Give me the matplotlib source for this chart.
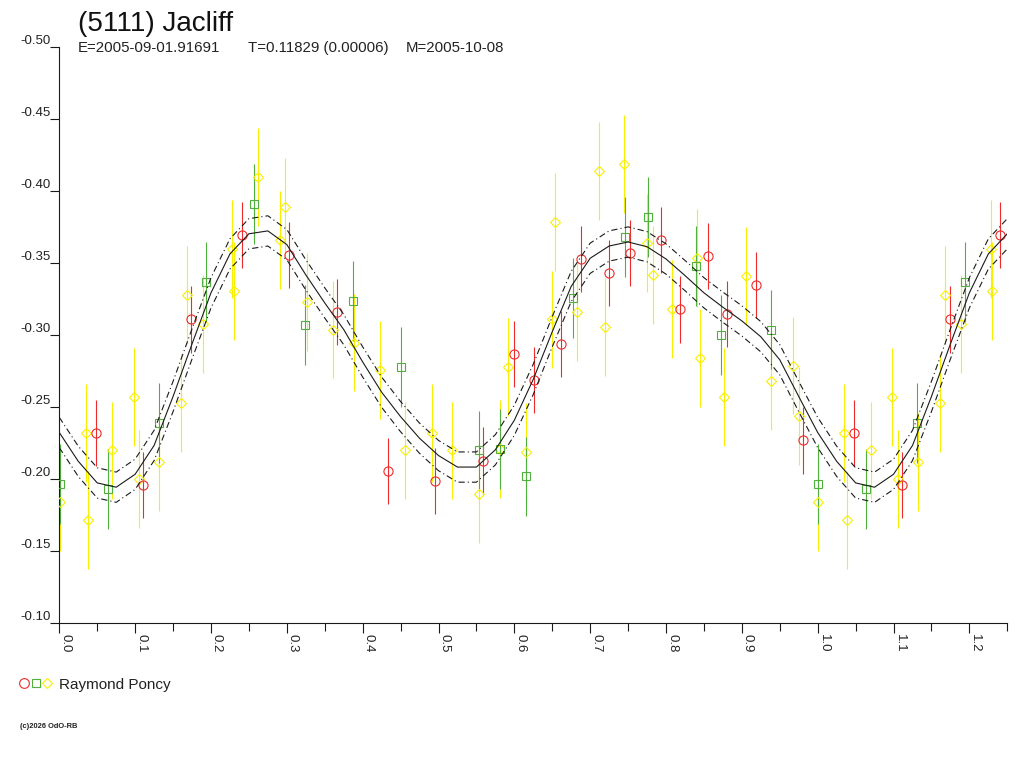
import numpy as np
import matplotlib.pyplot as plt
from matplotlib.lines import Line2D

plt.rcParams['font.family'] = ['Liberation Sans', 'DejaVu Sans']
plt.rcParams['lines.scale_dashes'] = False

curve_phase = np.arange(0, 41) * 0.025
curve_mag = [-0.2325, -0.2125, -0.1975, -0.1945, -0.2035, -0.2235, -0.2575,
             -0.2940, -0.3295, -0.3565, -0.3705, -0.3725, -0.3630, -0.3420,
             -0.3225, -0.3040, -0.2815, -0.2605, -0.2435, -0.2285, -0.2165,
             -0.2085, -0.2085, -0.2205, -0.2410, -0.2695, -0.3025, -0.3340,
             -0.3535, -0.3620, -0.3648, -0.3615, -0.3530, -0.3415, -0.3295,
             -0.3195, -0.3100, -0.2990, -0.2830, -0.2575, -0.2325]
curve_sigma = 0.0105

# Raymond Poncy, session 1 (red circles)
red_phase = [0.048, 0.111, 0.174, 0.2405, 0.303, 0.366, 0.433, 0.496, 0.559,
             0.599, 0.6255, 0.662, 0.688, 0.725, 0.752, 0.793, 0.818, 0.855,
             0.881, 0.918, 0.981]
red_mag = [-0.232, -0.196, -0.311, -0.3695, -0.3556, -0.316, -0.206, -0.199,
           -0.213, -0.287, -0.269, -0.294, -0.353, -0.343, -0.357, -0.366,
           -0.318, -0.355, -0.315, -0.335, -0.227]
red_err = 0.023

# session 2 (green squares)
green_phase = [0.001, 0.064, 0.131, 0.194, 0.257, 0.324, 0.387, 0.450, 0.553,
               0.581, 0.616, 0.678, 0.746, 0.776, 0.840, 0.872, 0.9385]
green_mag = [-0.197, -0.193, -0.239, -0.337, -0.391, -0.307, -0.324, -0.278,
             -0.220, -0.221, -0.202, -0.326, -0.368, -0.382, -0.348, -0.300,
             -0.304]
green_err = 0.0277

# session 3 (yellow diamonds)
yellow_phase = [0.001, 0.035, 0.038, 0.070, 0.098, 0.1055, 0.132, 0.161, 0.168,
                0.1895, 0.228, 0.230, 0.262, 0.291, 0.298, 0.326, 0.361, 0.388,
                0.423, 0.456, 0.491, 0.518, 0.553, 0.5815, 0.591, 0.616, 0.649,
                0.653, 0.683, 0.712, 0.720, 0.745, 0.7745, 0.783, 0.808, 0.841,
                0.845, 0.8765, 0.905, 0.939, 0.968, 0.9755]
yellow_mag = [-0.184, -0.232, -0.172, -0.220, -0.257, -0.200, -0.212, -0.253,
              -0.328, -0.308, -0.360, -0.331, -0.410, -0.366, -0.389, -0.323,
              -0.304, -0.295, -0.276, -0.220, -0.232, -0.220, -0.190, -0.221,
              -0.278, -0.219, -0.311, -0.379, -0.316, -0.414, -0.306, -0.419,
              -0.364, -0.342, -0.318, -0.354, -0.284, -0.257, -0.341, -0.268,
              -0.279, -0.244]
yellow_err = 0.034

x_max = 1.25

fig = plt.figure(figsize=(10.24, 7.68), dpi=100)
ax = fig.add_axes([59.3 / 1024, 1 - 623.3 / 768, 948 / 1024, 576 / 768])


def wrap(ph, mg):
    ph = np.asarray(ph)
    mg = np.asarray(mg)
    extra = ph + 1 <= x_max
    return np.concatenate([ph, ph[extra] + 1]), np.concatenate([mg, mg[extra]])


for ph, mg, err, col, mk, ms in [
        (yellow_phase, yellow_mag, yellow_err, '#f8f000', 'D', 4.7),
        (green_phase, green_mag, green_err, '#4fb03c', 's', 5.5),
        (red_phase, red_mag, red_err, '#ee2a2a', 'o', 6.6)]:
    x, y = wrap(ph, mg)
    ax.errorbar(x, y, yerr=err, fmt='none', ecolor=col, elinewidth=0.8,
                capsize=0, zorder=2)
    ax.plot(x, y, linestyle='none', marker=mk, ms=ms, mfc='none', mec=col,
            mew=0.8, zorder=3)

# fit and its envelope, repeated past phase 1
cp = np.concatenate([curve_phase, curve_phase[1:11] + 1])
cm = np.concatenate([curve_mag, curve_mag[1:11]])
ax.plot(cp, cm, color='#1a1a1a', lw=0.8, zorder=4, solid_joinstyle='round')
dashdot = (0, (4.5, 2.2, 0.8, 2.2))
ax.plot(cp, cm - curve_sigma, color='#1a1a1a', lw=0.8, ls=dashdot, zorder=4)
ax.plot(cp, cm + curve_sigma, color='#1a1a1a', lw=0.8, ls=dashdot, zorder=4)

ax.set_xlim(0, x_max)
ax.set_ylim(-0.10, -0.50)
for s in ['top', 'right']:
    ax.spines[s].set_visible(False)
for s in ['left', 'bottom']:
    ax.spines[s].set_linewidth(0.8)
    ax.spines[s].set_color('#1a1a1a')

ax.set_xticks(np.arange(0, 13) * 0.1)
ax.set_xticks(np.arange(0, 26) * 0.05, minor=True)
ax.set_xticklabels(['%.1f' % v for v in np.arange(0, 13) * 0.1])
ax.set_yticks(np.arange(-0.50, -0.09, 0.05))
ax.set_yticklabels(['%.2f' % v for v in np.arange(-0.50, -0.09, 0.05)])
ax.tick_params(axis='x', which='major', length=7, width=0.8, pad=1,
               labelsize=9.5, color='#1a1a1a', labelcolor='#222222')
ax.tick_params(axis='x', which='minor', length=6, width=0.8,
               color='#1a1a1a')
ax.tick_params(axis='y', length=6.5, width=0.8, pad=0, labelsize=9.5,
               color='#1a1a1a', labelcolor='#222222')
for lab in ax.get_xticklabels():
    lab.set_rotation(270)
    lab.set_horizontalalignment('left')
    lab.set_verticalalignment('top')
for lab in ax.get_yticklabels():
    lab.set_verticalalignment('bottom')

# header
fig.text(78 / 1024, 1 - 31 / 768, '(5111) Jacliff', fontsize=20,
         color='#111111', va='baseline')
fig.text(78 / 1024, 1 - 52 / 768, 'E=2005-09-01.91691', fontsize=10.8,
         color='#222222', va='baseline')
fig.text(248 / 1024, 1 - 52 / 768, 'T=0.11829 (0.00006)', fontsize=10.8,
         color='#222222', va='baseline')
fig.text(406 / 1024, 1 - 52 / 768, 'M=2005-10-08', fontsize=10.8,
         color='#222222', va='baseline')

# legend
for xp, mk, ms, col in [(24.3, 'o', 7.0, '#ee2a2a'), (36, 's', 5.5, '#4fb03c'),
                        (47.3, 'D', 5.0, '#f8f000')]:
    fig.add_artist(Line2D([xp / 1024], [1 - 683.3 / 768], marker=mk, ms=ms,
                          mfc='none', mec=col, mew=0.8, linestyle='none',
                          transform=fig.transFigure))
fig.text(58.7 / 1024, 1 - 688.5 / 768, 'Raymond Poncy', fontsize=11,
         color='#222222', va='baseline')

fig.text(20 / 1024, 1 - 726 / 768, '(c)2026 OdO-RB', fontsize=5.4,
         fontweight='bold', color='#222222', va='center')

fig.savefig('out.png', dpi=100)
